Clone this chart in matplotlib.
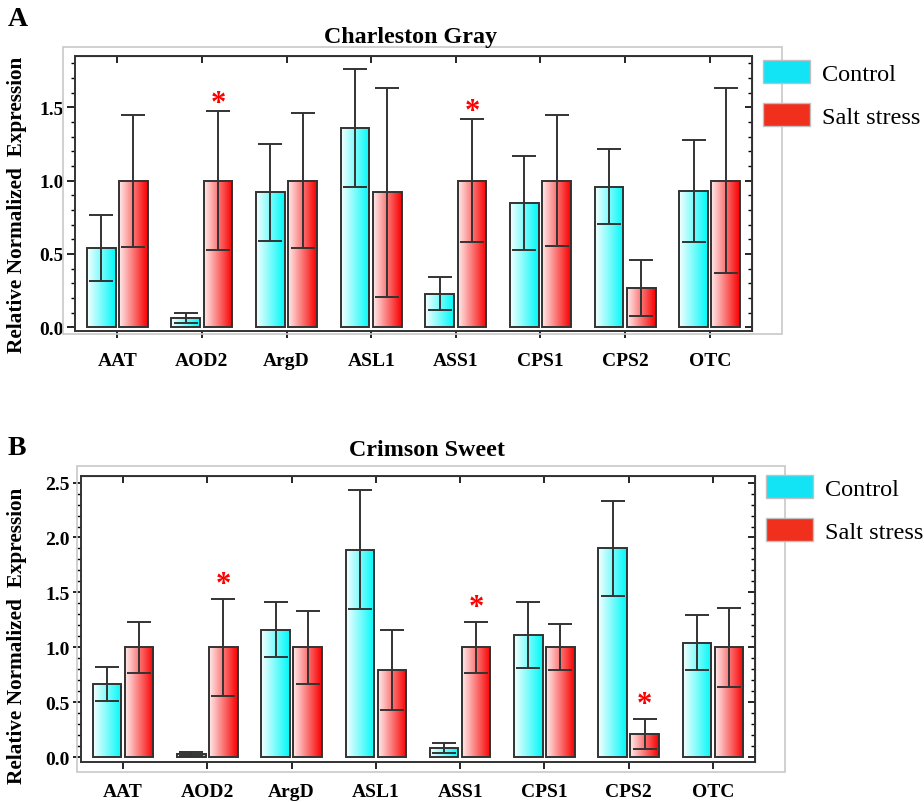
import matplotlib
matplotlib.use("Agg")
import matplotlib.pyplot as plt
import numpy as np
from matplotlib.colors import LinearSegmentedColormap
from matplotlib.patches import Patch, Rectangle

genes = ["AAT", "AOD2", "ArgD", "ASL1", "ASS1", "CPS1", "CPS2", "OTC"]

# Charleston Gray
cg_ctrl = [0.54, 0.065, 0.92, 1.36, 0.23, 0.85, 0.96, 0.93]
cg_ctrl_err = [0.225, 0.035, 0.33, 0.40, 0.115, 0.32, 0.255, 0.345]
cg_salt = [1.0, 1.0, 1.0, 0.92, 1.0, 1.0, 0.27, 1.0]
cg_salt_err = [0.45, 0.475, 0.46, 0.715, 0.42, 0.445, 0.19, 0.63]
cg_star = ["AOD2", "ASS1"]

# Crimson Sweet
cs_ctrl = [0.665, 0.03, 1.16, 1.89, 0.08, 1.11, 1.90, 1.04]
cs_ctrl_err = [0.157, 0.02, 0.25, 0.54, 0.045, 0.30, 0.43, 0.25]
cs_salt = [1.0, 1.0, 1.0, 0.79, 1.0, 1.0, 0.21, 1.0]
cs_salt_err = [0.23, 0.44, 0.33, 0.365, 0.23, 0.21, 0.14, 0.358]
cs_star = ["AOD2", "ASS1", "CPS2"]

plt.rcParams["font.family"] = ["Liberation Serif", "DejaVu Serif"]

cyan_map = LinearSegmentedColormap.from_list("c", ["#f4ffff", "#00f8f8"])
red_map = LinearSegmentedColormap.from_list("r", ["#ffeaea", "#f80000"])
grad = np.linspace(0, 1, 64).reshape(1, -1)
edge = "#333333"

W, H = 924, 803
fig = plt.figure(figsize=(W / 100, H / 100), dpi=100)


def fbox(x0, y0, x1, y1):
    # pixel box (top-left origin) -> figure fraction rect
    return [x0 / W, 1 - y1 / H, (x1 - x0) / W, (y1 - y0) / H]


def gradient_bars(ax, xs, vals, w, cmap):
    bars = ax.bar(xs, vals, w, color="none", edgecolor=edge, linewidth=1.4, zorder=3)
    for b in bars:
        ax.imshow(grad, cmap=cmap, aspect="auto", zorder=2,
                  extent=[b.get_x(), b.get_x() + b.get_width(), 0, b.get_height()])


def panel(rect, box, ctrl, cerr, salt, serr, stars, star_off, ymax, ymin, title,
          title_xy, letter_xy, letter, leg_xy, lab_xy):
    fig.add_artist(Rectangle((box[0] / W, 1 - box[3] / H), (box[2] - box[0]) / W,
                             (box[3] - box[1]) / H, transform=fig.transFigure,
                             fill=False, edgecolor="#c8c8c8", linewidth=1.2))
    ax = fig.add_axes(fbox(*rect))
    x = np.arange(len(genes))
    w = 0.34
    off = 0.19
    gradient_bars(ax, x - off, ctrl, w, cyan_map)
    gradient_bars(ax, x + off, salt, w, red_map)
    eb = dict(fmt="none", ecolor=edge, elinewidth=1.4, capsize=8.5, capthick=1.4, zorder=4)
    ax.errorbar(x - off, ctrl, yerr=cerr, **eb)
    ax.errorbar(x + off, salt, yerr=serr, **eb)
    for g in stars:
        i = genes.index(g)
        ax.annotate("*", (i + off, salt[i] + serr[i]), xytext=(0, star_off),
                    textcoords="offset points", color="red", ha="center",
                    va="bottom", fontsize=22, fontweight="bold")
    ax.set_xlim(-0.5, len(genes) - 0.5)
    ax.set_ylim(ymin, ymax)
    ax.set_xticks(x)
    ax.set_xticklabels(genes, fontsize=14, fontweight="bold")
    ax.set_yticks(np.arange(0, ymax, 0.5))
    ax.set_yticks(np.arange(0, ymax, 0.1), minor=True)
    ax.set_yticklabels([f"{v:.1f}" for v in np.arange(0, ymax, 0.5)],
                       fontsize=14, fontweight="bold")
    ax.tick_params(axis="x", direction="out", length=5, width=1.2, pad=10, top=False)
    ax.tick_params(axis="y", which="major", direction="out", length=6, width=1.2, pad=2)
    ax.tick_params(axis="y", which="minor", direction="out", length=3, width=1)
    for s in ax.spines.values():
        s.set_linewidth(1.4)
        s.set_color(edge)
    top = ax.secondary_xaxis("top")
    top.set_xticks(x)
    top.tick_params(direction="in", length=5, width=1.2, labeltop=False)
    right = ax.secondary_yaxis("right")
    right.set_yticks(np.arange(0, ymax, 0.5))
    right.set_yticks(np.arange(0, ymax, 0.1), minor=True)
    right.tick_params(which="major", direction="in", length=5, width=1.2, labelright=False)
    right.tick_params(which="minor", direction="in", length=3, width=1)
    ax.set_ylabel("Relative Normalized  Expression", fontsize=15.3, fontweight="bold")
    ax.yaxis.set_label_coords(*lab_xy)
    fig.text(title_xy[0] / W, 1 - title_xy[1] / H, title, ha="center", va="center",
             fontsize=17.3, fontweight="bold")
    fig.text(letter_xy[0] / W, 1 - letter_xy[1] / H, letter, ha="center", va="center",
             fontsize=20, fontweight="bold")
    handles = [Patch(facecolor="#12e4f6", edgecolor="#c0c0c0", label="Control"),
               Patch(facecolor="#f0301c", edgecolor="#c0c0c0", label="Salt stress")]
    fig.legend(handles=handles, loc="upper left",
               bbox_to_anchor=(leg_xy[0] / W, 1 - leg_xy[1] / H), frameon=False,
               fontsize=17.5, handlelength=1.93, handleheight=1.1,
               handletextpad=0.5, labelspacing=0.75, borderpad=0, borderaxespad=0)
    return ax


panel((75, 57, 752, 332), (63, 48, 782, 335), cg_ctrl, cg_ctrl_err, cg_salt,
      cg_salt_err, cg_star, -4.7, 1.85, -0.025, "Charleston Gray", (411, 37), (18, 20),
      "A", (763, 61), (-0.071, 0.462))
panel((81, 477, 755, 763), (77, 467, 785, 773), cs_ctrl, cs_ctrl_err, cs_salt,
      cs_salt_err, cs_star, -0.3, 2.56, -0.045, "Crimson Sweet", (427, 451), (17, 449),
      "B", (766, 476), (-0.080, 0.444))

plt.savefig("out.png", dpi=100)
